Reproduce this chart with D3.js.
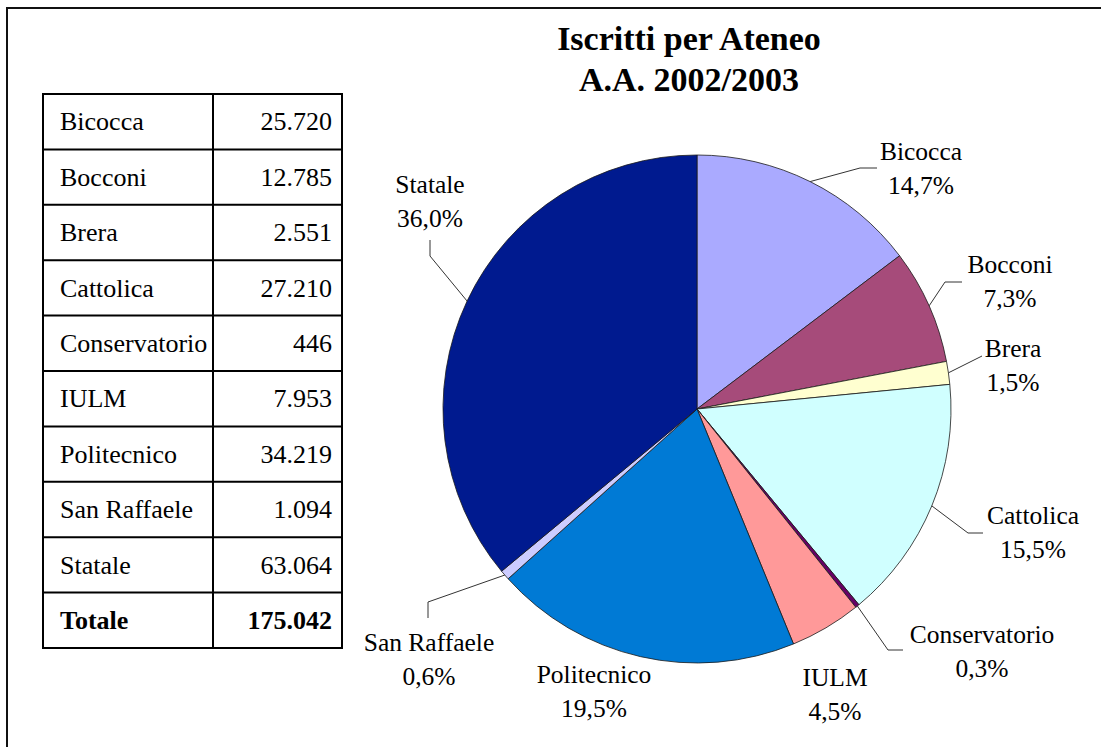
<!DOCTYPE html>
<html>
<head>
<meta charset="utf-8">
<script src="https://cdn.jsdelivr.net/npm/d3@7"></script>
<style>
	html, body { margin: 0; padding: 0; background: #fff; }
	svg { display: block; }
	svg text { font-family: "Liberation Serif", "Times New Roman", Times, "DejaVu Serif", serif; }
</style>
</head>
<body>
<svg id="chart" width="1101" height="747"></svg>
<script>
const atenei = ['Bicocca', 'Bocconi', 'Brera', 'Cattolica', 'Conservatorio', 'IULM', 'Politecnico', 'San Raffaele', 'Statale'];
const iscritti = [25720, 12785, 2551, 27210, 446, 7953, 34219, 1094, 63064];
const colori = ['#aaaaff', '#a64b7a', '#ffffd0', '#d0ffff', '#660066', '#ff9999', '#007ad5', '#ccccff', '#001a8f'];
const titolo = ['Iscritti per Ateneo', 'A.A. 2002/2003'];
const totaleLabel = 'Totale';

// label placement, as Excel left it (center x, first line center y, leader elbow and end)
const labelLayout = {
	'Bicocca': {x: 921, y: 152, elbow: [860, 168], end: [877, 168]},
	'Bocconi': {x: 1010, y: 265, elbow: [945, 282], end: [962, 282]},
	'Brera': {x: 1013, y: 349, elbow: [982, 356], end: [982, 356]},
	'Cattolica': {x: 1033, y: 516, elbow: [968, 533], end: [983, 533]},
	'Conservatorio': {x: 982, y: 635, elbow: [888, 650], end: [903, 650]},
	'IULM': {x: 835, y: 678},
	'Politecnico': {x: 594, y: 675},
	'San Raffaele': {x: 429, y: 643, elbow: [428, 602], end: [428, 618]},
	'Statale': {x: 430, y: 185, elbow: [430, 256], end: [430, 240]}
};

const totale = d3.sum(iscritti);
const locale = d3.formatLocale({decimal: ',', thousands: '.', grouping: [3], currency: ['', '']});
const fmtInt = locale.format(',d');
const fmtPct = locale.format('.1%');
const serif = '"Liberation Serif", "Times New Roman", Times, "DejaVu Serif", serif';

let svg = d3.select('#chart');

// outer frame (only left and top edges fall inside the picture)
svg.append('rect')
	.attr('x', 7).attr('y', 8)
	.attr('width', 1120).attr('height', 780)
	.attr('fill', 'none')
	.attr('stroke', '#111')
	.attr('stroke-width', 2);

// table
const tab = {x: 43, y: 94, w: 299, colX: 213, rowH: 55.4};
let righe = atenei.map((a, i) => ({nome: a, valore: iscritti[i], bold: false}));
righe.push({nome: totaleLabel, valore: totale, bold: true});

let gTab = svg.append('g');

gTab.selectAll('text.nome')
	.data(righe)
	.enter()
	.append('text')
	.attr('class', 'nome')
	.attr('x', tab.x + 17)
	.attr('y', (d, i) => tab.y + tab.rowH * (i + 0.5) + 8.7)
	.attr('font-family', serif)
	.attr('font-size', 26)
	.attr('font-weight', d => d.bold ? 'bold' : 'normal')
	.text(d => d.nome);

gTab.selectAll('text.valore')
	.data(righe)
	.enter()
	.append('text')
	.attr('class', 'valore')
	.attr('x', tab.x + tab.w - 10)
	.attr('y', (d, i) => tab.y + tab.rowH * (i + 0.5) + 8.7)
	.attr('font-family', serif)
	.attr('font-size', 26)
	.attr('text-anchor', 'end')
	.attr('font-weight', d => d.bold ? 'bold' : 'normal')
	.text(d => fmtInt(d.valore));

gTab.selectAll('line.riga')
	.data(d3.range(1, righe.length))
	.enter()
	.append('line')
	.attr('x1', tab.x).attr('x2', tab.x + tab.w)
	.attr('y1', i => tab.y + tab.rowH * i)
	.attr('y2', i => tab.y + tab.rowH * i)
	.attr('stroke', '#000')
	.attr('stroke-width', 2);

gTab.append('line')
	.attr('x1', tab.colX).attr('x2', tab.colX)
	.attr('y1', tab.y).attr('y2', tab.y + tab.rowH * righe.length)
	.attr('stroke', '#000')
	.attr('stroke-width', 2);

gTab.append('rect')
	.attr('x', tab.x).attr('y', tab.y)
	.attr('width', tab.w).attr('height', tab.rowH * righe.length)
	.attr('fill', 'none')
	.attr('stroke', '#000')
	.attr('stroke-width', 2);

// title
svg.append('g')
	.selectAll('text')
	.data(titolo)
	.enter()
	.append('text')
	.attr('x', 689)
	.attr('y', (d, i) => 50 + i * 41)
	.attr('text-anchor', 'middle')
	.attr('font-family', serif)
	.attr('font-size', 34)
	.attr('font-weight', 'bold')
	.text(d => d);

// pie
const cx = 697, cy = 409, r = 254;
const color = d3.scaleOrdinal().domain(atenei).range(colori);

let pie = d3.pie().sort(null).value(d => d.valore);
let arcs = pie(atenei.map((a, i) => ({nome: a, valore: iscritti[i]})));
let arc = d3.arc().innerRadius(0).outerRadius(r);
let edge = d3.arc().innerRadius(r).outerRadius(r);

let gPie = svg.append('g').attr('transform', `translate(${cx},${cy})`);

gPie.selectAll('path')
	.data(arcs)
	.enter()
	.append('path')
	.attr('d', arc)
	.attr('fill', d => color(d.data.nome))
	.attr('stroke', '#1a1a1a')
	.attr('stroke-width', 0.8)
	.attr('stroke-linejoin', 'round');

// leader lines
let line = d3.line();
svg.append('g')
	.selectAll('path')
	.data(arcs.filter(d => labelLayout[d.data.nome].elbow))
	.enter()
	.append('path')
	.attr('d', d => {
		let p = edge.centroid(d);
		let l = labelLayout[d.data.nome];
		return line([[cx + p[0], cy + p[1]], l.elbow, l.end]);
	})
	.attr('fill', 'none')
	.attr('stroke', '#333')
	.attr('stroke-width', 1);

// labels
let gLab = svg.append('g')
	.selectAll('g')
	.data(arcs)
	.enter()
	.append('g');

gLab.append('text')
	.attr('x', d => labelLayout[d.data.nome].x)
	.attr('y', d => labelLayout[d.data.nome].y + 8.4)
	.attr('text-anchor', 'middle')
	.attr('font-family', serif)
	.attr('font-size', 25.5)
	.text(d => d.data.nome);

gLab.append('text')
	.attr('x', d => labelLayout[d.data.nome].x)
	.attr('y', d => labelLayout[d.data.nome].y + 34 + 8.4)
	.attr('text-anchor', 'middle')
	.attr('font-family', serif)
	.attr('font-size', 25.5)
	.text(d => fmtPct(d.data.valore / totale));
</script>
</body>
</html>
